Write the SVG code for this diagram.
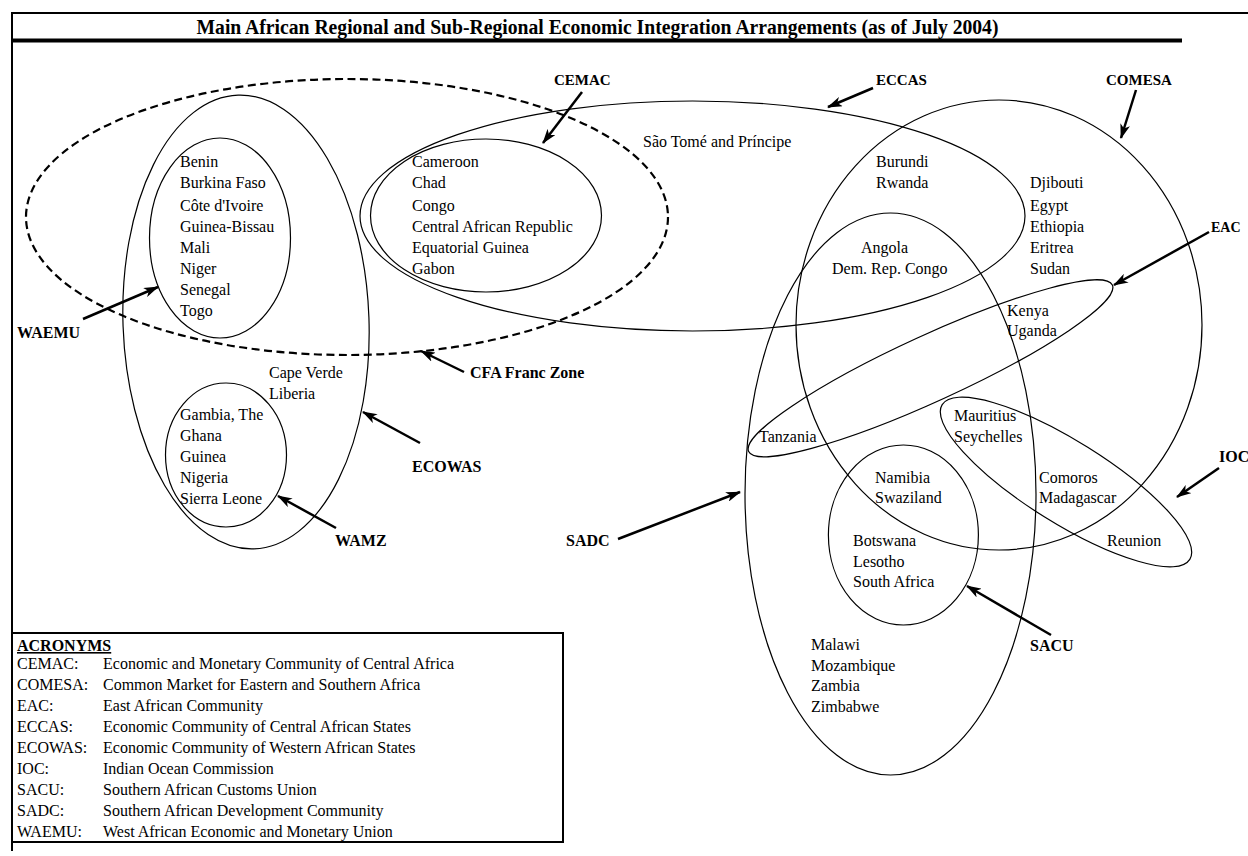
<svg xmlns="http://www.w3.org/2000/svg" width="1248" height="856" viewBox="0 0 1248 856">
<style>
text{font-family:"Liberation Serif","Times New Roman",serif;font-size:16px;fill:#000}
.b{font-weight:bold}
.s{font-size:15px}
.t{font-weight:bold;font-size:20.5px}
.e{fill:none;stroke:#000;stroke-width:1.2}
.d{fill:none;stroke:#000;stroke-width:2.2;stroke-dasharray:8 4.5}
.a{fill:none;stroke:#000;stroke-width:2.5;marker-end:url(#ah)}
.f{stroke:#000;fill:none}
</style>
<defs>
<marker id="ah" markerUnits="userSpaceOnUse" markerWidth="15" markerHeight="10" refX="14" refY="5" orient="auto">
<path d="M0,0 L15,5 L0,10 L4,5 Z" fill="#000"/>
</marker>
</defs>
<rect width="1248" height="856" fill="#fff"/>
<g id="frame">
<line class="f" x1="12" y1="13" x2="1248" y2="13" stroke-width="2"/>
<line class="f" x1="12" y1="12" x2="12" y2="851" stroke-width="2"/>
<line class="f" x1="12" y1="40.5" x2="1182" y2="40.5" stroke-width="4"/>
<text class="t" x="597.5" y="34" text-anchor="middle" textLength="802" lengthAdjust="spacingAndGlyphs">Main African Regional and Sub-Regional Economic Integration Arrangements (as of July 2004)</text>
</g>
<g id="cfa"><ellipse class="d" cx="347" cy="217" rx="321" ry="138"/></g>
<g id="ecowas"><ellipse class="e" cx="246" cy="322" rx="123" ry="227" transform="rotate(-2 246 322)"/>
<text x="269" y="378">Cape Verde</text><text x="269" y="399">Liberia</text></g>
<g id="waemu"><ellipse class="e" cx="220" cy="238" rx="70.5" ry="100"/>
<text x="180" y="167">Benin</text><text x="180" y="188">Burkina Faso</text><text x="180" y="211">Côte d'Ivoire</text><text x="180" y="232">Guinea-Bissau</text><text x="180" y="253">Mali</text><text x="180" y="274">Niger</text><text x="180" y="295">Senegal</text><text x="180" y="316">Togo</text></g>
<g id="wamz"><ellipse class="e" cx="226" cy="455" rx="60.5" ry="72"/>
<text x="180" y="419.5">Gambia, The</text><text x="180" y="440.5">Ghana</text><text x="180" y="461.5">Guinea</text><text x="180" y="482.5">Nigeria</text><text x="180" y="503.5">Sierra Leone</text></g>
<g id="eccas"><ellipse class="e" cx="692.5" cy="216" rx="332.5" ry="115"/>
<text x="643" y="146.5">São Tomé and Príncipe</text></g>
<g id="cemac"><ellipse class="e" cx="486" cy="215.5" rx="115.5" ry="76.5"/>
<text x="412" y="167">Cameroon</text><text x="412" y="188">Chad</text><text x="412" y="211">Congo</text><text x="412" y="232">Central African Republic</text><text x="412" y="253">Equatorial Guinea</text><text x="412" y="274">Gabon</text></g>
<g id="comesa"><ellipse class="e" cx="999" cy="325" rx="203" ry="225"/>
<text x="876" y="167">Burundi</text><text x="876" y="188">Rwanda</text>
<text x="1030" y="188">Djibouti</text><text x="1030" y="211">Egypt</text><text x="1030" y="232">Ethiopia</text><text x="1030" y="253">Eritrea</text><text x="1030" y="274">Sudan</text></g>
<g id="sadc"><ellipse class="e" cx="890.5" cy="494" rx="145.5" ry="281"/>
<text x="861" y="253">Angola</text><text x="832" y="274">Dem. Rep. Congo</text>
<text x="811" y="649.5">Malawi</text><text x="811" y="670.5">Mozambique</text><text x="811" y="691">Zambia</text><text x="811" y="712">Zimbabwe</text></g>
<g id="eac"><ellipse class="e" cx="930.5" cy="368.3" rx="200" ry="33" transform="rotate(-24.6 930.5 368.3)"/>
<text x="1007" y="315.5">Kenya</text><text x="1007" y="336">Uganda</text><text x="759" y="441.5">Tanzania</text></g>
<g id="ioc"><ellipse class="e" cx="1066" cy="482" rx="146" ry="41" transform="rotate(32 1066 482)"/>
<text x="954" y="420.5">Mauritius</text><text x="954" y="441.5">Seychelles</text>
<text x="1039" y="483">Comoros</text><text x="1039" y="503">Madagascar</text><text x="1107" y="545.5">Reunion</text></g>
<g id="sacu"><ellipse class="e" cx="903.4" cy="535" rx="75" ry="90"/>
<text x="875" y="483">Namibia</text><text x="875" y="503">Swaziland</text>
<text x="853" y="545.5">Botswana</text><text x="853" y="566.5">Lesotho</text><text x="853" y="587">South Africa</text></g>
<g id="labels">
<text class="b s" x="554" y="85">CEMAC</text>
<text class="b s" x="876" y="85">ECCAS</text>
<text class="b s" x="1106" y="85">COMESA</text>
<text class="b" x="1211" y="232" style="font-size:14px">EAC</text>
<text class="b" x="17" y="337.5">WAEMU</text>
<text class="b" x="470" y="378">CFA Franc Zone</text>
<text class="b" x="412" y="472">ECOWAS</text>
<text class="b" x="335" y="545.5">WAMZ</text>
<text class="b" x="566" y="545.5">SADC</text>
<text class="b" x="1219" y="462">IOC</text>
<text class="b" x="1030" y="650.5">SACU</text>
</g>
<g id="connectors">
<line class="a" x1="582" y1="92" x2="543" y2="143"/>
<line class="a" x1="873" y1="88" x2="828" y2="107"/>
<line class="a" x1="1136" y1="90" x2="1121" y2="138"/>
<line class="a" x1="1209" y1="232" x2="1114" y2="285"/>
<line class="a" x1="83" y1="319" x2="158" y2="287"/>
<line class="a" x1="464" y1="372" x2="421" y2="351"/>
<line class="a" x1="420" y1="443" x2="363" y2="412"/>
<line class="a" x1="336" y1="528" x2="278" y2="496"/>
<line class="a" x1="618" y1="539" x2="740" y2="492"/>
<line class="a" x1="1219" y1="468" x2="1177" y2="497"/>
<line class="a" x1="1051" y1="635" x2="967" y2="586"/>
</g>
<g id="acronyms">
<rect x="12" y="633" width="551" height="209" fill="none" stroke="#000" stroke-width="2"/>
<text class="b" x="17" y="651" text-decoration="underline">ACRONYMS</text>
<text x="17" y="669">CEMAC:</text><text x="103" y="669">Economic and Monetary Community of Central Africa</text>
<text x="17" y="690">COMESA:</text><text x="103" y="690">Common Market for Eastern and Southern Africa</text>
<text x="17" y="711">EAC:</text><text x="103" y="711">East African Community</text>
<text x="17" y="732">ECCAS:</text><text x="103" y="732">Economic Community of Central African States</text>
<text x="17" y="753">ECOWAS:</text><text x="103" y="753">Economic Community of Western African States</text>
<text x="17" y="774">IOC:</text><text x="103" y="774">Indian Ocean Commission</text>
<text x="17" y="795">SACU:</text><text x="103" y="795">Southern African Customs Union</text>
<text x="17" y="816">SADC:</text><text x="103" y="816">Southern African Development Community</text>
<text x="17" y="837">WAEMU:</text><text x="103" y="837">West African Economic and Monetary Union</text>
</g>
</svg>
